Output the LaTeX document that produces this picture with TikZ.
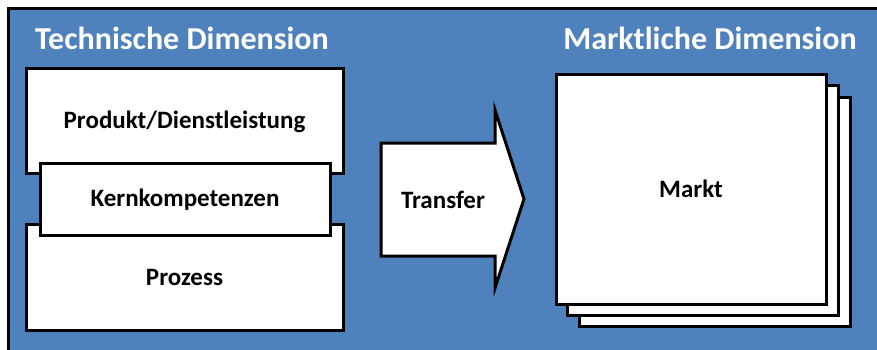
\documentclass[tikz,border=0pt]{standalone}
\usepackage{fontspec}
\setmainfont{Carlito}
\usetikzlibrary{shapes.arrows}
\definecolor{panelblue}{HTML}{4F81BD}
\tikzset{
  panel/.style={draw=black, line width=3pt, fill=panelblue},
  layerbox/.style={draw=black, line width=3pt, fill=white, inner sep=0pt},
  heading/.style={text=white, font=\bfseries\fontsize{32}{34}\selectfont},
  label/.style={text=black, font=\bfseries\fontsize{25}{28}\selectfont},
}
\begin{document}
\begin{tikzpicture}[x=1pt,y=-1pt]
\useasboundingbox (0,0) rectangle (877,349);
% background panel, running off the right and bottom edges
\fill[white] (0,0) rectangle (877,349);
\draw[panel] (8.5,8.5) rectangle (900,370);

% headings
\node[heading] (tech) at (182,38) {Technische Dimension};
\node[heading] (markt-head) at (710,38) {Marktliche Dimension};

% technical layers
\draw[layerbox] (26,68) rectangle (343,173);
\node[label] (produkt) at (184.5,122) {Produkt/Dienstleistung};
\draw[layerbox] (26,224) rectangle (343,330);
\node[label] (prozess) at (184.5,277) {Prozess};
\draw[layerbox] (40,163) rectangle (330,235);
\node[label] (kern) at (185,200) {Kernkompetenzen};

% transfer arrow
\draw[layerbox, line join=miter] (381,143) -- (495,143) -- (495,110) -- (524,199)
  -- (495,288) -- (495,256) -- (381,256) -- cycle;
\node[label] (transfer) at (443,200) {Transfer};

% stacked market sheets
\draw[layerbox] (579,97) rectangle (850,326);
\draw[layerbox] (567,85) rectangle (838,315);
\draw[layerbox] (556,74) rectangle (826,304);
\node[label] (markt) at (691,189) {Markt};
\end{tikzpicture}
\end{document}
